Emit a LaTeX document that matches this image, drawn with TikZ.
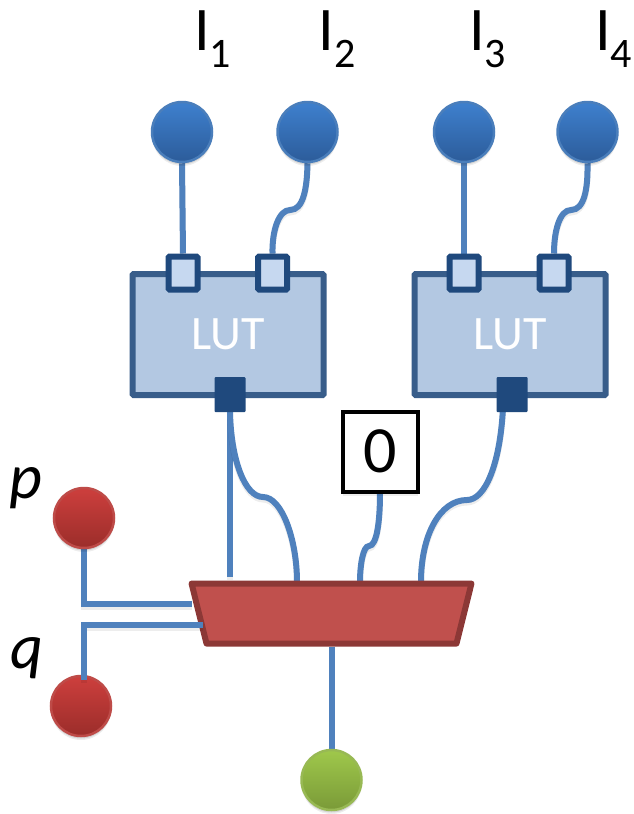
\documentclass[tikz,border=0pt]{standalone}
\usepackage{fontspec}
\setmainfont{Carlito}
\usetikzlibrary{shapes.geometric}
\pgfdeclarelayer{lutlayer}
\pgfdeclarelayer{wirelayer}
\pgfdeclarelayer{toplayer}
\pgfsetlayers{lutlayer,wirelayer,main,toplayer}
\definecolor{dotBlueT}{HTML}{3E80CE}
\definecolor{dotBlueB}{HTML}{2C5C9A}
\definecolor{dotBlueL}{HTML}{4A7EBB}
\definecolor{dotRedT}{HTML}{CD3F3D}
\definecolor{dotRedB}{HTML}{9B2D2A}
\definecolor{dotRedL}{HTML}{BE4B48}
\definecolor{dotGreenT}{HTML}{9FC84B}
\definecolor{dotGreenB}{HTML}{7A9A38}
\definecolor{dotGreenL}{HTML}{98B954}
\definecolor{lutFill}{HTML}{B3C8E2}
\definecolor{lutLine}{HTML}{385D8A}
\definecolor{portFill}{HTML}{C6D8F0}
\definecolor{portLine}{HTML}{1F497D}
\definecolor{muxFill}{HTML}{C0504D}
\definecolor{muxLine}{HTML}{8C3836}
\definecolor{wireBlue}{HTML}{4F81BD}
\tikzset{
  x=1pt,y=-1pt,
  softshadow/.style={preaction={draw=none,fill=black,opacity=.07,transform canvas={yshift=-4pt}},
    preaction={draw=none,fill=black,opacity=.10,transform canvas={yshift=-2.5pt}}},
  dot/.style={circle,minimum size=60pt,inner sep=0pt,line width=2.5pt,softshadow},
  bluedot/.style={dot,draw=dotBlueL,top color=dotBlueT,bottom color=dotBlueB},
  reddot/.style={dot,draw=dotRedL,top color=dotRedT,bottom color=dotRedB},
  greendot/.style={dot,draw=dotGreenL,top color=dotGreenT,bottom color=dotGreenB},
  lutbox/.style={rectangle,draw=lutLine,fill=lutFill,line width=6pt,rounded corners=1pt,minimum width=191pt,minimum height=121pt,inner sep=0pt,text=white,font=\fontsize{48}{48}\selectfont},
  inport/.style={rectangle,draw=portLine,fill=portFill,line width=6pt,rounded corners=1pt,minimum width=29pt,minimum height=33pt,inner sep=0pt},
  outport/.style={rectangle,fill=portLine,rounded corners=1pt,minimum width=31pt,minimum height=35pt,inner sep=0pt},
  zerobox/.style={rectangle,draw=black,fill=white,line width=4pt,minimum width=75pt,minimum height=80pt,inner sep=0pt,softshadow,font=\fontsize{66}{66}\selectfont},
  muxbox/.style={trapezium,trapezium angle=76,shape border rotate=180,draw=muxLine,fill=muxFill,line width=6pt,line join=round,inner sep=0pt},
  wire/.style={draw=wireBlue,line width=6pt,preaction={draw=black,opacity=.07,line width=6pt,transform canvas={yshift=-2.5pt}}},
  inlabel/.style={inner sep=0pt,anchor=base west,font=\fontsize{62}{62}\selectfont},
  varlabel/.style={inner sep=0pt,anchor=base west,font=\fontsize{64}{64}\selectfont\itshape}
}
\newcommand{\subtxt}[1]{{\fontsize{42}{42}\selectfont\raisebox{-17pt}{#1}}}
\begin{document}
\begin{tikzpicture}
\useasboundingbox (0,0) rectangle (633,814);
% free wire ends
\coordinate (pin) at (192,604);
\coordinate (qin) at (203,625);
\coordinate (qend) at (84,680);
\coordinate (dirbot) at (231,577);
\coordinate (m1) at (297,582);
\coordinate (m2) at (360,582);
\coordinate (m3) at (421,582);
\coordinate (a2) at (503,408);
% LUT bodies
\begin{pgfonlayer}{lutlayer}
\fill[white] (0,0) rectangle (633,814);
\node[lutbox] (lutA) at (228,334.5) {LUT};
\node[lutbox] (lutB) at (510,334.5) {LUT};
\end{pgfonlayer}
% ports
\node[inport] (pA1) at (183,273) {};
\node[inport] (pA2) at (272.5,273) {};
\node[outport] (oA) at (230,394.5) {};
\node[inport] (pB1) at (464,273) {};
\node[inport] (pB2) at (554,273) {};
\node[outport] (oB) at (512,394.5) {};
% dots
\node[bluedot] (i1) at (182,132) {};
\node[bluedot] (i2) at (307.5,132) {};
\node[bluedot] (i3) at (464,132) {};
\node[bluedot] (i4) at (587.5,132) {};
\node[reddot] (p) at (84,518) {};
\node[reddot] (q) at (81,706) {};
\node[greendot] (out) at (331.5,780) {};
% zero box and mux
\node[zerobox] (zero) at (380,451.5) {0};
\node[muxbox] (mux) at (331.5,613.5) {\phantom{\rule{250pt}{60pt}}};
% wires
\begin{pgfonlayer}{wirelayer}
\path[wire] (i1.south) -- (pA1.north);
\path[wire] (i2.south) .. controls (307,190) and (303,210) .. (290,210) .. controls (279,210) and (272,230) .. (pA2.north);
\path[wire] (i3.south) -- (pB1.north);
\path[wire] (i4.south) .. controls (588,190) and (584,210) .. (571,210) .. controls (560,210) and (554,230) .. (pB2.north);
\path[wire] (oA.south) -- (oA.south |- dirbot);
\path[wire] (oA.south) .. controls (231,460) and (245,497) .. (263,497) .. controls (282,497) and (297,540) .. (m1);
\path[wire] (zero.south) .. controls (380,520) and (377,546) .. (369,546) .. controls (363,546) and (360,565) .. (m2);
\path[wire] (a2) .. controls (500,465) and (485,500) .. (467,500) .. controls (440,500) and (421,535) .. (m3);
\path[wire] (p.south) |- (pin);
\path[wire] (mux.south) -- (out.north);
\end{pgfonlayer}
\begin{pgfonlayer}{toplayer}
\path[wire] (qend) |- (qin);
\end{pgfonlayer}
% labels
\node[inlabel] (l1) at (194,50) {I\subtxt{1}};
\node[inlabel] (l2) at (318.5,50) {I\subtxt{2}};
\node[inlabel] (l3) at (469,50) {I\subtxt{3}};
\node[inlabel] (l4) at (595,50) {I\subtxt{4}};
\node[varlabel] (lp) at (9,498) {p};
\node[varlabel] (lq) at (10,668) {q};
\end{tikzpicture}
\end{document}
